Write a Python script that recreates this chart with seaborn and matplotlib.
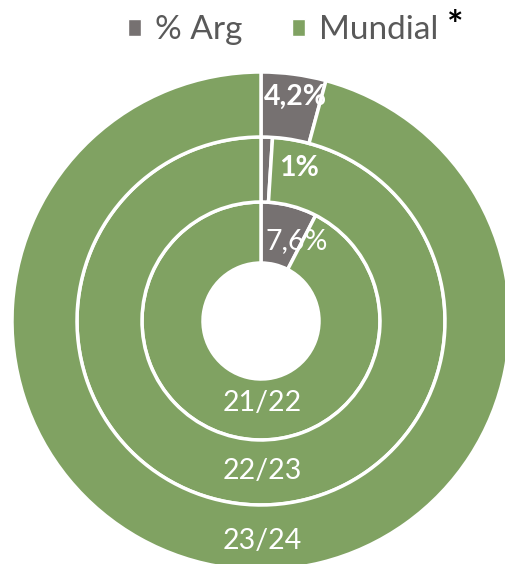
import matplotlib
matplotlib.use("Agg")
import matplotlib.pyplot as plt
from matplotlib.patches import Patch
import seaborn as sns

# share of Argentina in world production, by season (inner ring -> outer ring)
temporadas = ["21/22", "22/23", "23/24"]
arg_pct = [7.6, 1.0, 4.2]
etiquetas = ["7,6%", "1%", "4,2%"]
negrita = [False, True, True]
series = ["% Arg", "Mundial"]

gris = "#767171"
verde = "#80A262"

sns.set_theme(style="white")
plt.rcParams["font.family"] = ["Lato", "DejaVu Sans"]

W, H = 506, 564
fig = plt.figure(figsize=(W / 100, H / 100), dpi=100)
ax = fig.add_axes([0, 0, 1, 1])
ax.set_xlim(0, W)
ax.set_ylim(0, H)
ax.set_aspect("equal")
ax.axis("off")

cx, cy = 261, H - 321
hueco = 58
radios = [119, 184, 249]

interior = hueco
for i, r in enumerate(radios):
    ax.pie([arg_pct[i], 100 - arg_pct[i]], colors=[gris, verde], radius=r,
           center=(cx, cy), startangle=90, counterclock=False,
           wedgeprops=dict(width=r - interior, edgecolor="white", linewidth=2.5))
    interior = r

ax.set_xlim(0, W)
ax.set_ylim(0, H)

# season labels at the bottom of each ring (pixel rows from the original)
fila_temp = [403, 471, 541]
for py, txt in zip(fila_temp, temporadas):
    ax.text(cx + 1, H - py, txt, color="white", fontsize=20.5,
            ha="center", va="center")

# percentage labels (pixel positions from the original)
pos_etq = [(297, 241), (299, 168), (295, 97)]
for (px, py), txt, b in zip(pos_etq, etiquetas, negrita):
    ax.text(px, H - py, txt, color="white", fontsize=20.5,
            fontweight="bold" if b else "normal", ha="center", va="center")

handles = [Patch(facecolor=gris), Patch(facecolor=verde)]
leg = fig.legend(handles, series, loc="center", bbox_to_anchor=(283 / W, 1 - 30 / H),
                 ncol=2, frameon=False, fontsize=24, handlelength=0.4,
                 handleheight=0.4, handletextpad=0.4, columnspacing=1.5,
                 borderpad=0, borderaxespad=0)
for t in leg.get_texts():
    t.set_color("#595959")
fig.text(455 / W, 1 - 27 / H, "*", fontsize=28, fontweight="bold",
         color="black", ha="center", va="center")

fig.savefig("out.png", dpi=100)
plt.close()
